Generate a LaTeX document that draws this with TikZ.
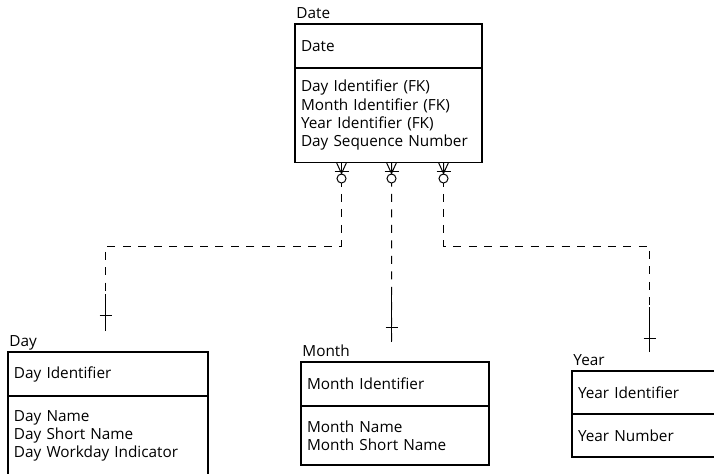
\documentclass[tikz,border=0pt]{standalone}
\usepackage{fontspec}
\setmainfont{Open Sans}
\usetikzlibrary{positioning}

\begin{document}
\begin{tikzpicture}[
    font=\fontsize{10.9}{13}\selectfont,
    keybox/.style={draw, line width=0.9pt, outer sep=0pt, anchor=north west, minimum height=1.1cm, text width=#1, align=left, inner xsep=0.15cm},
    attrbox/.style 2 args={draw, line width=0.9pt, outer sep=0pt, text width=#1, minimum height=#2, align=left, inner xsep=0.15cm},
    title/.style={anchor=base west, inner sep=0pt},
    rel/.style={line width=0.7pt, dash pattern=on 5.7pt off 5.3pt, dash phase=3.2pt},
    one/.style={line width=0.7pt},
    manyend/.pic={
      \draw[line width=0.7pt] (-0.125,0) -- (0,-0.275) -- (0.125,0) (0,0) -- (0,-0.275);
      \draw[line width=0.7pt] (-0.175,-0.225) -- (0.175,-0.225);
      \draw[line width=0.7pt] (0,-0.4) circle (0.1125);
    }
  ]
  \useasboundingbox (0,0) rectangle (17.85,-11.825);
  \clip (0,0) rectangle (17.85,-11.825);

  % Date entity
  \node[keybox=4.375cm] (datekey) at (7.375,-0.6) {Date};
  \node[attrbox={4.375cm}{2.3625cm}, below=0cm of datekey] (dateattr) {Day Identifier (FK)\\ Month Identifier (FK)\\ Year Identifier (FK)\\ Day Sequence Number};
  \node[title] (datetitle) at ([xshift=0.03cm,yshift=0.15cm]datekey.north west) {Date};

  % Day entity
  \node[keybox=4.7cm] (daykey) at (0.2,-8.8) {Day Identifier};
  \node[attrbox={4.7cm}{2.0cm}, below=0cm of daykey] (dayattr) {Day Name\\ Day Short Name\\ Day Workday Indicator};
  \node[title] (daytitle) at ([xshift=0.03cm,yshift=0.15cm]daykey.north west) {Day};

  % Month entity
  \node[keybox=4.4cm] (monthkey) at (7.525,-9.05) {Month Identifier};
  \node[attrbox={4.4cm}{1.475cm}, below=0cm of monthkey] (monthattr) {Month Name\\ Month Short Name};
  \node[title] (monthtitle) at ([xshift=0.03cm,yshift=0.15cm]monthkey.north west) {Month};

  % Year entity
  \node[keybox=3.55cm, minimum height=1.075cm] (yearkey) at (14.3,-9.275) {Year Identifier};
  \node[attrbox={3.55cm}{1.075cm}, below=0cm of yearkey] (yearattr) {Year Number};
  \node[title] (yeartitle) at ([xshift=0.03cm,yshift=0.15cm]yearkey.north west) {Year};

  % Zero-or-many ends on Date
  \coordinate (f1) at ([xshift=1.1625cm]dateattr.south west);
  \coordinate (f2) at ([xshift=2.4125cm]dateattr.south west);
  \coordinate (f3) at ([xshift=3.7125cm]dateattr.south west);
  \pic at (f1) {manyend};
  \pic at (f2) {manyend};
  \pic at (f3) {manyend};

  % One ends above each lookup entity
  \coordinate (dayend) at (2.6375,-8.275);
  \coordinate (daybend) at (2.6375,-6.15);
  \coordinate (monthend) at (9.7875,-8.55);
  \coordinate (yearend) at (16.2375,-8.8);
  \coordinate (yearbend) at (16.2375,-6.15);

  % Relationships
  \draw[rel] ([yshift=-0.5125cm]f1) |- (daybend) -- (dayend);
  \draw[rel] ([yshift=-0.5125cm]f2) -- (monthend);
  \draw[rel] ([yshift=-0.5125cm]f3) |- (yearbend) -- (yearend);

  \draw[one] (dayend) -- ++(0,0.925) ([xshift=-0.15cm,yshift=0.4cm]dayend) -- ++(0.3,0);
  \draw[one] (monthend) -- ++(0,1.3) ([xshift=-0.15cm,yshift=0.375cm]monthend) -- ++(0.3,0);
  \draw[one] (yearend) -- ++(0,1.125) ([xshift=-0.15cm,yshift=0.35cm]yearend) -- ++(0.3,0);
\end{tikzpicture}
\end{document}
